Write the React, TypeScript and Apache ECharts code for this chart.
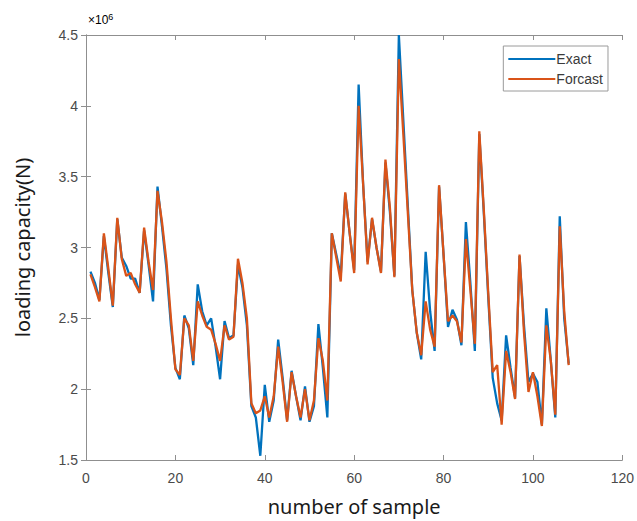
import React, { useEffect, useRef } from "react";
import * as echarts from "echarts";

// Values in units of 10^6 N (axis shows "×10^6")
const exactValues: number[] = [
  2.83, 2.75, 2.63, 3.08, 2.82, 2.58, 3.20, 2.93, 2.87, 2.78,
  2.78, 2.68, 3.12, 2.88, 2.62, 3.43, 3.15, 2.85, 2.45, 2.15,
  2.07, 2.52, 2.43, 2.17, 2.74, 2.55, 2.45, 2.50, 2.30, 2.07,
  2.48, 2.36, 2.38, 2.88, 2.72, 2.45, 1.88, 1.80, 1.53, 2.03,
  1.77, 1.92, 2.35, 2.08, 1.78, 2.13, 1.95, 1.78, 2.02, 1.77,
  1.88, 2.46, 2.15, 1.80, 3.10, 2.95, 2.80, 3.38, 3.10, 2.84,
  4.15, 3.45, 2.90, 3.20, 3.00, 2.83, 3.60, 3.25, 2.80, 4.50,
  3.90, 3.30, 2.70, 2.40, 2.21, 2.97, 2.55, 2.27, 3.43, 2.95,
  2.44, 2.56, 2.49, 2.31, 3.18, 2.75, 2.27, 3.80, 3.25, 2.65,
  2.08, 1.90, 1.78, 2.38, 2.15, 1.94, 2.94, 2.45, 2.05, 2.11,
  2.05, 1.75, 2.57, 2.20, 1.80, 3.22, 2.50, 2.18,
];

const forecastValues: number[] = [
  2.81, 2.72, 2.62, 3.10, 2.85, 2.59, 3.21, 2.92, 2.80, 2.82,
  2.74, 2.68, 3.14, 2.90, 2.70, 3.40, 3.18, 2.90, 2.50, 2.14,
  2.10, 2.50, 2.45, 2.20, 2.62, 2.52, 2.44, 2.42, 2.32, 2.20,
  2.45, 2.35, 2.37, 2.92, 2.75, 2.50, 1.90, 1.83, 1.85, 1.95,
  1.80, 1.95, 2.30, 2.05, 1.77, 2.12, 1.95, 1.80, 2.00, 1.78,
  1.92, 2.36, 2.20, 1.92, 3.10, 2.93, 2.76, 3.39, 3.10, 2.82,
  4.00, 3.45, 2.88, 3.21, 3.00, 2.82, 3.62, 3.28, 2.79, 4.33,
  3.80, 3.25, 2.70, 2.40, 2.24, 2.62, 2.42, 2.30, 3.44, 2.95,
  2.48, 2.52, 2.48, 2.33, 3.06, 2.70, 2.32, 3.82, 3.27, 2.68,
  2.12, 2.17, 1.75, 2.27, 2.12, 1.93, 2.95, 2.40, 1.98, 2.12,
  1.95, 1.74, 2.45, 2.20, 1.82, 3.15, 2.55, 2.17,
];

const xTicks = { min: 0, max: 120, interval: 20 };
const yTicks = { min: 1.5, max: 4.5, interval: 0.5 };

const seriesNames = ["Exact", "Forcast"];

export default function App() {
  const ref = useRef<HTMLDivElement>(null);

  useEffect(() => {
    if (!ref.current) return;
    const chart = echarts.init(ref.current, undefined, { renderer: "svg" });
    const toPairs = (arr: number[]) => arr.map((v, i) => [i + 1, v]);
    const axisColor = "#8f8f8f";
    const labelColor = "#4a4a4a";
    const tickFont = "Liberation Sans";

    const baseX = {
      type: "value" as const,
      min: xTicks.min,
      max: xTicks.max,
      interval: xTicks.interval,
      splitLine: { show: false },
      axisLine: { show: true, lineStyle: { color: axisColor, width: 1 } },
      axisTick: { show: true, inside: true, length: 5, lineStyle: { color: axisColor } },
    };
    const baseY = {
      type: "value" as const,
      min: yTicks.min,
      max: yTicks.max,
      interval: yTicks.interval,
      splitLine: { show: false },
      axisLine: { show: true, lineStyle: { color: axisColor, width: 1 } },
      axisTick: { show: true, inside: true, length: 5, lineStyle: { color: axisColor } },
    };

    chart.setOption({
      animation: false,
      backgroundColor: "#ffffff",
      grid: { left: 86, right: 12, top: 35, bottom: 61, containLabel: false },
      legend: {
        data: seriesNames,
        orient: "vertical",
        right: 29,
        top: 46,
        icon: "rect",
        itemWidth: 47,
        itemHeight: 2,
        itemGap: 6,
        padding: [6, 5, 5, 5],
        borderColor: "#9a9a9a",
        borderWidth: 1,
        backgroundColor: "#ffffff",
        textStyle: { fontFamily: tickFont, fontSize: 14, color: "#3a3a3a", padding: [0, 0, 0, -4] },
      },
      xAxis: [
        {
          ...baseX,
          position: "bottom",
          name: "number of sample",
          nameLocation: "middle",
          nameGap: 36,
          nameTextStyle: { fontFamily: "Noto Sans", fontSize: 20, color: "#1a1a1a" },
          axisLabel: { color: labelColor, fontSize: 14, fontFamily: tickFont, margin: 11 },
        },
        { ...baseX, position: "top", axisLabel: { show: false } },
      ],
      yAxis: [
        {
          ...baseY,
          position: "left",
          name: "loading capacity(N)",
          nameLocation: "middle",
          nameGap: 54,
          nameRotate: 90,
          nameTextStyle: { fontFamily: "Noto Sans", fontSize: 20, color: "#1a1a1a" },
          axisLabel: {
            color: labelColor,
            fontSize: 14,
            fontFamily: tickFont,
            margin: 8,
            formatter: (v: number) => String(v),
          },
        },
        { ...baseY, position: "right", axisLabel: { show: false } },
      ],
      graphic: [
        {
          type: "text",
          left: 88,
          top: 12,
          style: {
            text: "{a|×10}{b|6}",
            rich: {
              a: { fontFamily: tickFont, fontSize: 12, color: labelColor },
              b: { fontFamily: tickFont, fontSize: 9, color: labelColor, verticalAlign: "top", padding: [0, 0, 6, 0] },
            },
          },
        },
      ],
      series: [
        {
          name: seriesNames[0],
          type: "line",
          data: toPairs(exactValues),
          showSymbol: false,
          symbol: "none",
          lineStyle: { color: "#0072BD", width: 2.3 },
          itemStyle: { color: "#0072BD" },
          z: 2,
        },
        {
          name: seriesNames[1],
          type: "line",
          data: toPairs(forecastValues),
          showSymbol: false,
          symbol: "none",
          lineStyle: { color: "#D95319", width: 2.3 },
          itemStyle: { color: "#D95319" },
          z: 3,
        },
      ],
    });
    return () => chart.dispose();
  }, []);

  return <div ref={ref} style={{ width: 637, height: 521, position: "absolute", left: 0, top: 0 }} />;
}
